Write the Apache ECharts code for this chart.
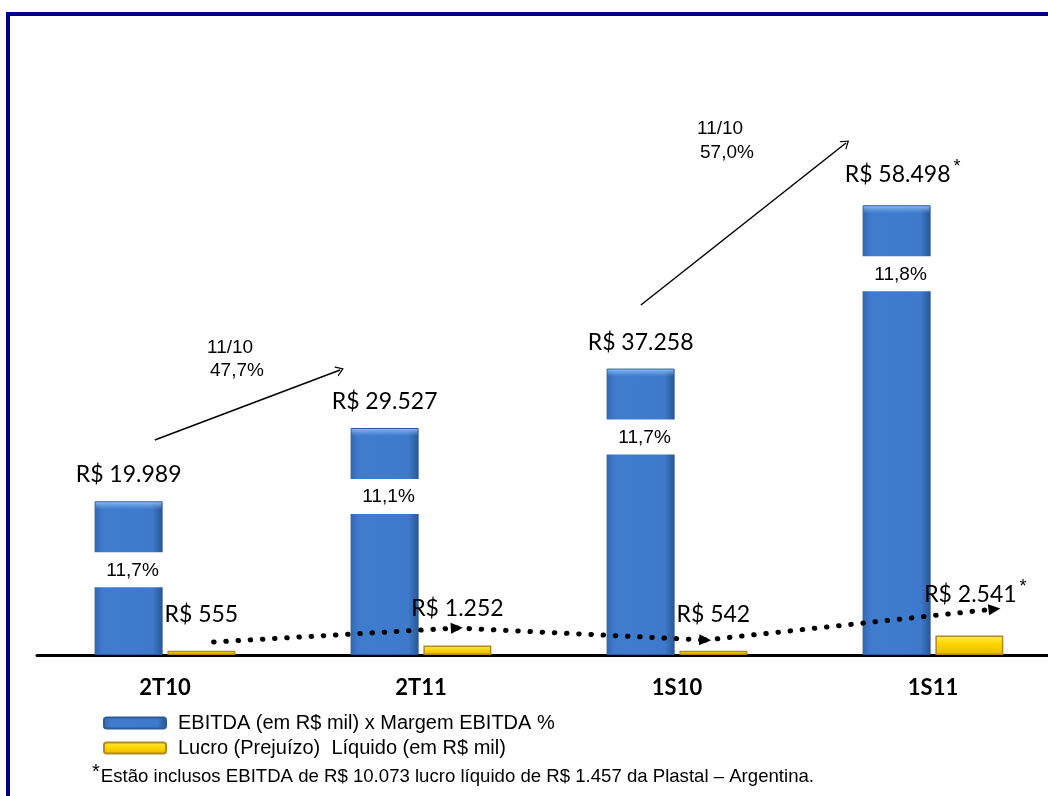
<!DOCTYPE html>
<html>
<head>
<meta charset="utf-8">
<script src="https://cdn.jsdelivr.net/npm/echarts@6/dist/echarts.min.js"></script>
<style>
html, body { margin: 0; padding: 0; background: #fff; }
#main { width: 1048px; height: 796px; }
</style>
</head>
<body>
<div id="main"></div>
<script>
// dados do grafico
var categorias = ['2T10', '2T11', '1S10', '1S11'];
var ebitda = [19989, 29527, 37258, 58498];
var ebitdaTextos = ['R$ 19.989', 'R$ 29.527', 'R$ 37.258', 'R$ 58.498'];
var margem = ['11,7%', '11,1%', '11,7%', '11,8%'];
var lucro = [555, 1252, 542, 2541];
var lucroTextos = ['R$ 555', 'R$ 1.252', 'R$ 542', 'R$ 2.541'];
var asterisco = [false, false, false, true];

// setas (indice da categoria, valor)
var setaLucro = [[0.19, 1690], [1.14, 3510], [2.11, 1950], [3.24, 5980]];
var setasEbitda = [
	[[-0.04, 27970], [0.684, 37070]],
	[[1.859, 45530], [2.66, 66600]]
];
var variacoes = [['11/10', '47,7%'], ['11/10', '57,0%']];

var legendas = ['EBITDA (em R$ mil) x Margem EBITDA %', 'Lucro (Prejuízo)  Líquido (em R$ mil)'];
var nota = 'Estão inclusos EBITDA de R$ 10.073 lucro líquido de R$ 1.457 da Plastal – Argentina.';

var myChart = echarts.init(document.getElementById('main'));

var azul = new echarts.graphic.LinearGradient(0, 0, 1, 0, [
	{ offset: 0, color: '#3168b2' },
	{ offset: 0.12, color: '#407cce' },
	{ offset: 0.85, color: '#3e7acb' },
	{ offset: 1, color: '#2a5693' }
]);
var amarelo = new echarts.graphic.LinearGradient(0, 0, 0, 1, [
	{ offset: 0, color: '#ffec66' },
	{ offset: 0.4, color: '#ffd800' },
	{ offset: 1, color: '#eab800' }
]);

function rotuloAsterisco(textos) {
	return function(p) {
		return textos[p.dataIndex] + (asterisco[p.dataIndex] ? '{s|*}' : '');
	};
}

// o asterisco fica fora do centro do rotulo
function comAsterisco(valores) {
	return valores.map(function(v, i) {
		return asterisco[i] ? { value: v, label: { offset: [6, 0] } } : v;
	});
}

// linhas pontilhadas do lucro
var linhas = [];
for (var i = 0; i < setaLucro.length - 1; i++) {
	linhas.push([{
		coord: setaLucro[i],
		symbol: 'none',
		lineStyle: { color: '#000', width: 5, type: [0.5, 11.7], cap: 'round' }
	}, {
		coord: setaLucro[i + 1],
		symbol: 'triangle',
		symbolSize: [11, 12]
	}]);
}
// setas do ebitda
setasEbitda.forEach(function(s) {
	linhas.push([{
		coord: s[0],
		symbol: 'none',
		lineStyle: { color: '#000', width: 1.5, type: 'solid' }
	}, {
		coord: s[1],
		symbol: 'path://M0,12 L6,0 L12,12 L10.4,12 L6,3.2 L1.6,12 Z',
		symbolSize: [11, 8]
	}]);
});

var fonteTexto = '19px "Liberation Sans"';

var option = {
	animation: false,
	grid: { left: 37, width: 1024, top: 40, bottom: 141, outerBoundsMode: 'none', containLabel: false },
	legend: {
		orient: 'vertical',
		left: 103,
		top: 713,
		padding: 0,
		itemWidth: 62,
		itemHeight: 11,
		itemGap: 5,
		icon: 'roundRect',
		selectedMode: false,
		textStyle: { fontFamily: 'Liberation Sans', fontSize: 20, color: '#000', padding: [0, 0, 0, 7] },
		data: legendas
	},
	xAxis: [{
		type: 'category',
		data: categorias,
		axisLine: { lineStyle: { color: '#000', width: 3 } },
		axisTick: { show: false },
		axisLabel: { fontFamily: 'Lato', fontWeight: 'bold', fontSize: 22, color: '#000', margin: 22 }
	}, {
		type: 'value',
		min: -0.5,
		max: 3.5,
		show: false
	}],
	yAxis: {
		type: 'value',
		min: 0,
		max: 80000,
		show: false,
		splitLine: { show: false }
	},
	graphic: [{
		type: 'rect',
		z: -10,
		shape: { x: 8, y: 14, width: 1100, height: 900 },
		style: { fill: 'none', stroke: '#000088', lineWidth: 4 }
	}, {
		type: 'text', left: 207, top: 338,
		style: { text: variacoes[0][0], font: fonteTexto, fill: '#000' }
	}, {
		type: 'text', left: 210, top: 361,
		style: { text: variacoes[0][1], font: fonteTexto, fill: '#000' }
	}, {
		type: 'text', left: 697, top: 119,
		style: { text: variacoes[1][0], font: fonteTexto, fill: '#000' }
	}, {
		type: 'text', left: 700, top: 143,
		style: { text: variacoes[1][1], font: fonteTexto, fill: '#000' }
	}, {
		type: 'text', left: 92, top: 762,
		style: {
			text: '{s|*}{t|' + nota + '}',
			rich: {
				s: { fontFamily: 'Liberation Sans', fontSize: 20, fill: '#000', padding: [0, 1, 10, 0] },
				t: { fontFamily: 'Liberation Sans', fontSize: 18.6, fill: '#000' }
			}
		}
	}],
	series: [{
		name: legendas[0],
		type: 'bar',
		data: comAsterisco(ebitda),
		barWidth: 68,
		barGap: '7%',
		itemStyle: { color: azul, borderColor: '#2c5a9a', borderWidth: 1 },
		label: {
			show: true,
			position: 'top',
			distance: 15,
			fontFamily: 'Lato',
			fontSize: 23,
			color: '#000',
			formatter: rotuloAsterisco(ebitdaTextos),
			rich: { s: { fontFamily: 'Liberation Sans', fontSize: 18, color: '#000', padding: [0, 0, 14, 3] } }
		}
	}, {
		name: legendas[1],
		type: 'bar',
		data: comAsterisco(lucro),
		barWidth: 68,
		barGap: '7%',
		z: 3,
		itemStyle: { color: amarelo, borderColor: '#b48a1e', borderWidth: 1.5 },
		label: {
			show: true,
			position: 'top',
			distance: 25,
			fontFamily: 'Lato',
			fontSize: 23,
			color: '#000',
			formatter: rotuloAsterisco(lucroTextos),
			rich: { s: { fontFamily: 'Liberation Sans', fontSize: 18, color: '#000', padding: [0, 0, 14, 3] } }
		}
	}, {
		// faixa branca com a margem
		type: 'custom',
		z: 4,
		silent: true,
		data: ebitda.map(function(v, i) { return [i, v]; }),
		encode: { x: 0, y: 1 },
		renderItem: function(params, api) {
			var p = api.coord([api.value(0), api.value(1)]);
			var cx = p[0] - 36.4;
			return {
				type: 'group',
				children: [{
					type: 'rect',
					shape: { x: cx - 33, y: p[1] + 1, width: 66, height: 7 },
					style: {
						fill: new echarts.graphic.LinearGradient(0, 0, 0, 1, [
							{ offset: 0, color: 'rgba(140,190,245,0.9)' },
							{ offset: 1, color: 'rgba(120,170,235,0)' }
						])
					}
				}, {
					type: 'rect',
					shape: { x: cx - 37, y: p[1] + 51, width: 74, height: 35 },
					style: { fill: '#fff' }
				}, {
					type: 'text',
					style: {
						text: margem[params.dataIndex],
						x: cx + 4,
						y: p[1] + 69,
						align: 'center',
						verticalAlign: 'middle',
						font: fonteTexto,
						fill: '#000'
					}
				}]
			};
		}
	}, {
		// setas
		type: 'scatter',
		xAxisIndex: 1,
		data: [],
		z: 6,
		silent: true,
		markLine: {
			silent: true,
			animation: false,
			label: { show: false },
			data: linhas
		}
	}]
};
myChart.setOption(option);
</script>
</body>
</html>
